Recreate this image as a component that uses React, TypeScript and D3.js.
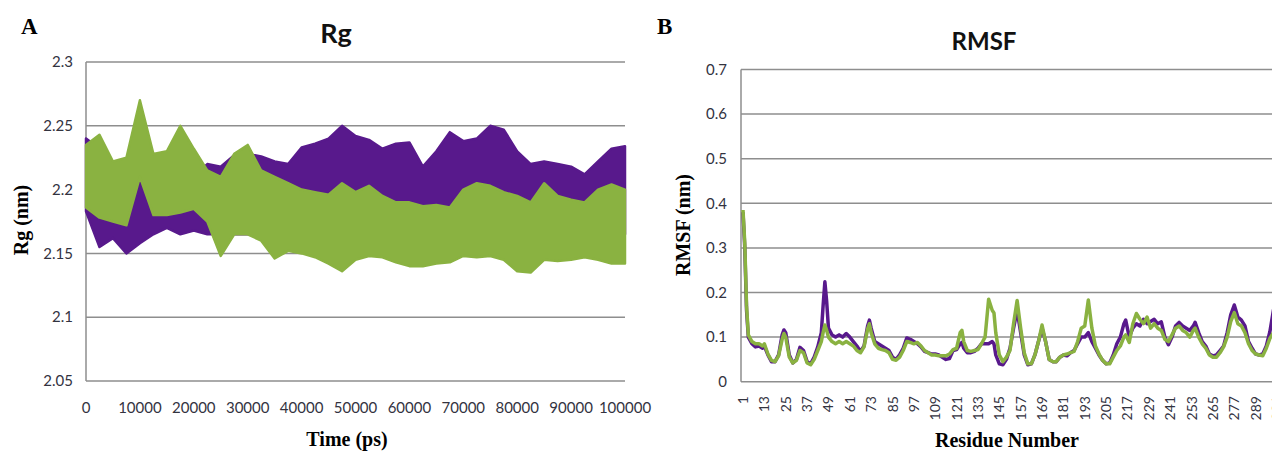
import { useEffect, useRef } from "react";
import * as d3 from "d3";

// Rg trace (dense MD trace, kept as its upper / lower envelope per time window)
const rgTime = [
  0, 2500, 5000, 7500, 10000, 12500, 15000, 17500, 20000, 22500, 25000, 27500, 30000, 32500, 35000,
  37500, 40000, 42500, 45000, 47500, 50000, 52500, 55000, 57500, 60000, 62500, 65000, 67500, 70000,
  72500, 75000, 77500, 80000, 82500, 85000, 87500, 90000, 92500, 95000, 97500, 100000,
];
const rgPurpleHigh = [
  2.24, 2.232, 2.215, 2.205, 2.225, 2.215, 2.21, 2.205, 2.21, 2.22, 2.218, 2.227, 2.228, 2.226, 2.222,
  2.22, 2.233, 2.236, 2.24, 2.25, 2.242, 2.239, 2.232, 2.236, 2.237, 2.218, 2.23, 2.245, 2.238,
  2.24, 2.25, 2.247, 2.23, 2.22, 2.222, 2.22, 2.218, 2.212, 2.222, 2.232, 2.234,
];
const rgPurpleLow = [
  2.183, 2.155, 2.162, 2.15, 2.158, 2.165, 2.17, 2.165, 2.168, 2.165, 2.165, 2.165, 2.165, 2.165, 2.165,
  2.165, 2.165, 2.165, 2.165, 2.165, 2.165, 2.165, 2.165, 2.165, 2.165, 2.165, 2.165, 2.165, 2.165,
  2.165, 2.165, 2.165, 2.165, 2.165, 2.165, 2.165, 2.165, 2.165, 2.165, 2.165, 2.165,
];
const rgGreenHigh = [
  2.235, 2.243, 2.222, 2.225, 2.27, 2.228, 2.23, 2.25, 2.232, 2.215, 2.21, 2.228, 2.235, 2.215, 2.21,
  2.205, 2.2, 2.198, 2.196, 2.205, 2.198, 2.203, 2.195, 2.19, 2.19, 2.187, 2.188, 2.186, 2.2,
  2.205, 2.203, 2.198, 2.195, 2.19, 2.205, 2.195, 2.192, 2.19, 2.2, 2.204, 2.2,
];
const rgGreenLow = [
  2.186, 2.178, 2.175, 2.172, 2.21, 2.18, 2.18, 2.182, 2.185, 2.175, 2.148, 2.165, 2.165, 2.16, 2.146,
  2.152, 2.15, 2.147, 2.142, 2.136, 2.145, 2.148, 2.147, 2.143, 2.14, 2.14, 2.142, 2.143, 2.148,
  2.147, 2.148, 2.145, 2.136, 2.135, 2.145, 2.144, 2.145, 2.147, 2.145, 2.142, 2.142,
];
const rgTicks = [2.05, 2.1, 2.15, 2.2, 2.25, 2.3];
const timeTicks = [0, 10000, 20000, 30000, 40000, 50000, 60000, 70000, 80000, 90000, 100000];

// RMSF per residue
const residues = [
  1, 2, 3, 4, 6, 8, 10, 12, 13, 15, 17, 19, 21, 23, 24, 25, 27, 29, 31, 33, 35, 37, 39, 41, 43, 45, 46,
  47, 48, 49, 51, 53, 55, 57, 59, 61, 63, 65, 67, 69, 71, 72, 73, 75, 77, 79, 81, 83, 85, 87, 89, 91,
  93, 95, 97, 99, 101, 103, 105, 107, 109, 111, 113, 115, 117, 119, 121, 123, 124, 125, 127, 129, 131,
  133, 135, 137, 139, 141, 142, 143, 145, 147, 149, 151, 153, 155, 157, 159, 161, 163, 165, 167, 169,
  171, 173, 175, 177, 179, 181, 183, 185, 187, 189, 191, 193, 195, 197, 199, 201, 203, 205, 207, 209,
  211, 213, 215, 216, 218, 220, 222, 224, 226, 228, 230, 232, 234, 236, 238, 240, 242, 244, 246, 248,
  250, 252, 254, 255, 257, 259, 261, 263, 265, 267, 269, 271, 273, 275, 277, 279, 281, 283, 285, 287,
  289, 291, 293, 295, 297, 299, 301,
];
const rmsfPurple = [
  0.38, 0.3, 0.16, 0.1, 0.085, 0.078, 0.08, 0.075, 0.08, 0.06, 0.045, 0.045, 0.06, 0.105, 0.116, 0.11,
  0.06, 0.042, 0.05, 0.077, 0.07, 0.045, 0.04, 0.055, 0.078, 0.11, 0.17, 0.224, 0.18, 0.12, 0.105, 0.1,
  0.105, 0.1, 0.108, 0.1, 0.09, 0.08, 0.068, 0.08, 0.125, 0.138, 0.12, 0.09, 0.085, 0.08, 0.075, 0.07,
  0.055, 0.05, 0.06, 0.075, 0.098, 0.095, 0.09, 0.085, 0.078, 0.068, 0.065, 0.062, 0.062, 0.06, 0.055,
  0.05, 0.052, 0.07, 0.072, 0.085, 0.088, 0.075, 0.065, 0.065, 0.068, 0.075, 0.085, 0.085, 0.085, 0.09,
  0.085, 0.06, 0.04, 0.038, 0.05, 0.075, 0.12, 0.16, 0.11, 0.06, 0.038, 0.04, 0.06, 0.09, 0.12, 0.09,
  0.05, 0.045, 0.045, 0.055, 0.06, 0.058, 0.065, 0.07, 0.085, 0.1, 0.1, 0.11, 0.09, 0.075, 0.06, 0.048,
  0.04, 0.042, 0.06, 0.085, 0.1, 0.13, 0.138, 0.1, 0.12, 0.13, 0.125, 0.14, 0.13, 0.135, 0.14, 0.13,
  0.134, 0.1, 0.083, 0.1, 0.125, 0.133, 0.125, 0.12, 0.115, 0.125, 0.133, 0.11, 0.09, 0.08, 0.062,
  0.058, 0.06, 0.07, 0.08, 0.11, 0.15, 0.172, 0.145, 0.138, 0.125, 0.09, 0.075, 0.062, 0.06, 0.062,
  0.08, 0.112, 0.16, 0.2,
];
const rmsfGreen = [
  0.385, 0.31, 0.17, 0.105, 0.09, 0.085, 0.085, 0.08, 0.085, 0.062, 0.048, 0.045, 0.058, 0.095, 0.108,
  0.1, 0.055, 0.042, 0.048, 0.07, 0.065, 0.042, 0.038, 0.05, 0.07, 0.09, 0.11, 0.127, 0.115, 0.1, 0.09,
  0.085, 0.09, 0.085, 0.09, 0.085, 0.08, 0.07, 0.065, 0.078, 0.118, 0.13, 0.11, 0.085, 0.075, 0.072,
  0.07, 0.065, 0.05, 0.048, 0.055, 0.07, 0.09, 0.088, 0.085, 0.088, 0.08, 0.07, 0.065, 0.06, 0.06,
  0.058, 0.058, 0.058, 0.062, 0.072, 0.075, 0.11, 0.115, 0.09, 0.07, 0.068, 0.07, 0.072, 0.085, 0.1,
  0.185, 0.16, 0.154, 0.11, 0.06, 0.045, 0.055, 0.07, 0.13, 0.182, 0.12, 0.065, 0.04, 0.04, 0.06, 0.09,
  0.127, 0.09, 0.05, 0.045, 0.045, 0.055, 0.06, 0.062, 0.065, 0.068, 0.09, 0.12, 0.125, 0.183, 0.12,
  0.08, 0.062, 0.048, 0.04, 0.04, 0.055, 0.07, 0.08, 0.1, 0.105, 0.088, 0.13, 0.153, 0.14, 0.13, 0.145,
  0.12, 0.13, 0.12, 0.115, 0.095, 0.09, 0.105, 0.12, 0.125, 0.115, 0.11, 0.1, 0.115, 0.12, 0.1, 0.085,
  0.075, 0.06, 0.055, 0.055, 0.065, 0.078, 0.1, 0.135, 0.155, 0.13, 0.125, 0.11, 0.085, 0.07, 0.062,
  0.06, 0.058, 0.075, 0.097, 0.11, 0.12,
];
const rmsfTicks = [0, 0.1, 0.2, 0.3, 0.4, 0.5, 0.6, 0.7];
const residueTicks = [
  1, 13, 25, 37, 49, 61, 73, 85, 97, 109, 121, 133, 145, 157, 169, 181, 193, 205, 217, 229, 241, 253,
  265, 277, 289, 301,
];

const PURPLE = "#58198c";
const GREEN = "#8ab241";
const GRID = "#8e8e8e";
const TICK = "#33333f";
const SANS = "Lato, 'Open Sans', sans-serif";
const SERIF = "'Liberation Serif', 'DejaVu Serif', serif";

const App = () => {
  const svgRef = useRef<SVGSVGElement | null>(null);

  useEffect(() => {
    const svg = d3.select(svgRef.current);
    svg.selectAll("*").remove();

    // ---------- A: Rg ----------
    const x1 = d3.scaleLinear().domain([0, 100000]).range([86, 625]);
    const y1 = d3.scaleLinear().domain([2.05, 2.3]).range([381, 62]);
    const gA = svg.append("g");

    gA.selectAll("line.grid")
      .data(rgTicks)
      .enter()
      .append("line")
      .attr("x1", 86)
      .attr("x2", 625)
      .attr("y1", (d) => y1(d))
      .attr("y2", (d) => y1(d))
      .attr("stroke", GRID)
      .attr("stroke-width", 1.5);
    gA.append("line")
      .attr("x1", 86)
      .attr("x2", 86)
      .attr("y1", y1(2.3))
      .attr("y2", y1(2.05))
      .attr("stroke", GRID)
      .attr("stroke-width", 1.5);

    const band = (hi: number[], lo: number[]) =>
      d3
        .area<number>()
        .x((d) => x1(d))
        .y0((_, i) => y1(lo[i]))
        .y1((_, i) => y1(hi[i]))(rgTime);

    gA.append("path")
      .attr("d", band(rgPurpleHigh, rgPurpleLow))
      .attr("fill", PURPLE)
      .attr("stroke", PURPLE)
      .attr("stroke-width", 2.5)
      .attr("stroke-linejoin", "round");
    gA.append("path")
      .attr("d", band(rgGreenHigh, rgGreenLow))
      .attr("fill", GREEN)
      .attr("stroke", GREEN)
      .attr("stroke-width", 2.5)
      .attr("stroke-linejoin", "round");

    gA.selectAll("text.ytick")
      .data(rgTicks)
      .enter()
      .append("text")
      .attr("x", 73)
      .attr("y", (d) => y1(d))
      .attr("dy", "0.35em")
      .attr("text-anchor", "end")
      .attr("font-family", SANS)
      .attr("font-size", 15)
      .attr("fill", TICK)
      .text((d) => String(d));
    gA.selectAll("text.xtick")
      .data(timeTicks)
      .enter()
      .append("text")
      .attr("x", (d) => x1(d))
      .attr("y", 413)
      .attr("text-anchor", "middle")
      .attr("font-family", SANS)
      .attr("font-size", 15)
      .attr("fill", TICK)
      .text((d) => String(d));

    gA.append("text")
      .attr("x", 336)
      .attr("y", 43)
      .attr("text-anchor", "middle")
      .attr("font-family", SANS)
      .attr("font-weight", "bold")
      .attr("font-size", 27)
      .attr("fill", "#111")
      .text("Rg");
    gA.append("text")
      .attr("x", 21)
      .attr("y", 34)
      .attr("font-family", SERIF)
      .attr("font-weight", "bold")
      .attr("font-size", 23)
      .text("A");
    gA.append("text")
      .attr("x", 347)
      .attr("y", 446)
      .attr("text-anchor", "middle")
      .attr("font-family", SERIF)
      .attr("font-weight", "bold")
      .attr("font-size", 20)
      .text("Time (ps)");
    gA.append("text")
      .attr("transform", "translate(28,220) rotate(-90)")
      .attr("text-anchor", "middle")
      .attr("font-family", SERIF)
      .attr("font-weight", "bold")
      .attr("font-size", 20)
      .text("Rg (nm)");

    // ---------- B: RMSF ----------
    const x2 = d3.scaleLinear().domain([1, 301]).range([743, 1277]);
    const y2 = d3.scaleLinear().domain([0, 0.7]).range([381.7, 69.5]);
    const gB = svg.append("g");

    gB.selectAll("line.grid")
      .data(rmsfTicks)
      .enter()
      .append("line")
      .attr("x1", 741)
      .attr("x2", 1290)
      .attr("y1", (d) => y2(d))
      .attr("y2", (d) => y2(d))
      .attr("stroke", GRID)
      .attr("stroke-width", 1.5);
    gB.append("line")
      .attr("x1", 741)
      .attr("x2", 741)
      .attr("y1", y2(0.7))
      .attr("y2", y2(0))
      .attr("stroke", GRID)
      .attr("stroke-width", 1.5);

    const line = (vals: number[]) =>
      d3
        .line<number>()
        .x((d) => x2(d))
        .y((_, i) => y2(vals[i]))(residues);

    gB.append("path")
      .attr("d", line(rmsfPurple))
      .attr("fill", "none")
      .attr("stroke", PURPLE)
      .attr("stroke-width", 3.5)
      .attr("stroke-linejoin", "round");
    gB.append("path")
      .attr("d", line(rmsfGreen))
      .attr("fill", "none")
      .attr("stroke", GREEN)
      .attr("stroke-width", 3.5)
      .attr("stroke-linejoin", "round");

    gB.selectAll("text.ytick")
      .data(rmsfTicks)
      .enter()
      .append("text")
      .attr("x", 727)
      .attr("y", (d) => y2(d))
      .attr("dy", "0.35em")
      .attr("text-anchor", "end")
      .attr("font-family", SANS)
      .attr("font-size", 15)
      .attr("fill", TICK)
      .text((d) => String(d));
    gB.selectAll("text.xtick")
      .data(residueTicks)
      .enter()
      .append("text")
      .attr("transform", (d) => `translate(${x2(d) + 5},396) rotate(-90)`)
      .attr("text-anchor", "end")
      .attr("font-family", SANS)
      .attr("font-size", 14)
      .attr("fill", TICK)
      .text((d) => String(d));

    gB.append("text")
      .attr("x", 984)
      .attr("y", 50)
      .attr("text-anchor", "middle")
      .attr("font-family", SANS)
      .attr("font-weight", "bold")
      .attr("font-size", 24)
      .attr("fill", "#111")
      .text("RMSF");
    gB.append("text")
      .attr("x", 657)
      .attr("y", 34)
      .attr("font-family", SERIF)
      .attr("font-weight", "bold")
      .attr("font-size", 23)
      .text("B");
    gB.append("text")
      .attr("x", 1007)
      .attr("y", 447)
      .attr("text-anchor", "middle")
      .attr("font-family", SERIF)
      .attr("font-weight", "bold")
      .attr("font-size", 20)
      .text("Residue Number");
    gB.append("text")
      .attr("transform", "translate(690,225) rotate(-90)")
      .attr("text-anchor", "middle")
      .attr("font-family", SERIF)
      .attr("font-weight", "bold")
      .attr("font-size", 20)
      .text("RMSF (nm)");
  }, []);

  return (
    <svg
      ref={svgRef}
      width={1272}
      height={453}
      viewBox="0 0 1272 453"
      style={{ position: "absolute", left: 0, top: 0, background: "#fff" }}
    />
  );
};

export default App;
